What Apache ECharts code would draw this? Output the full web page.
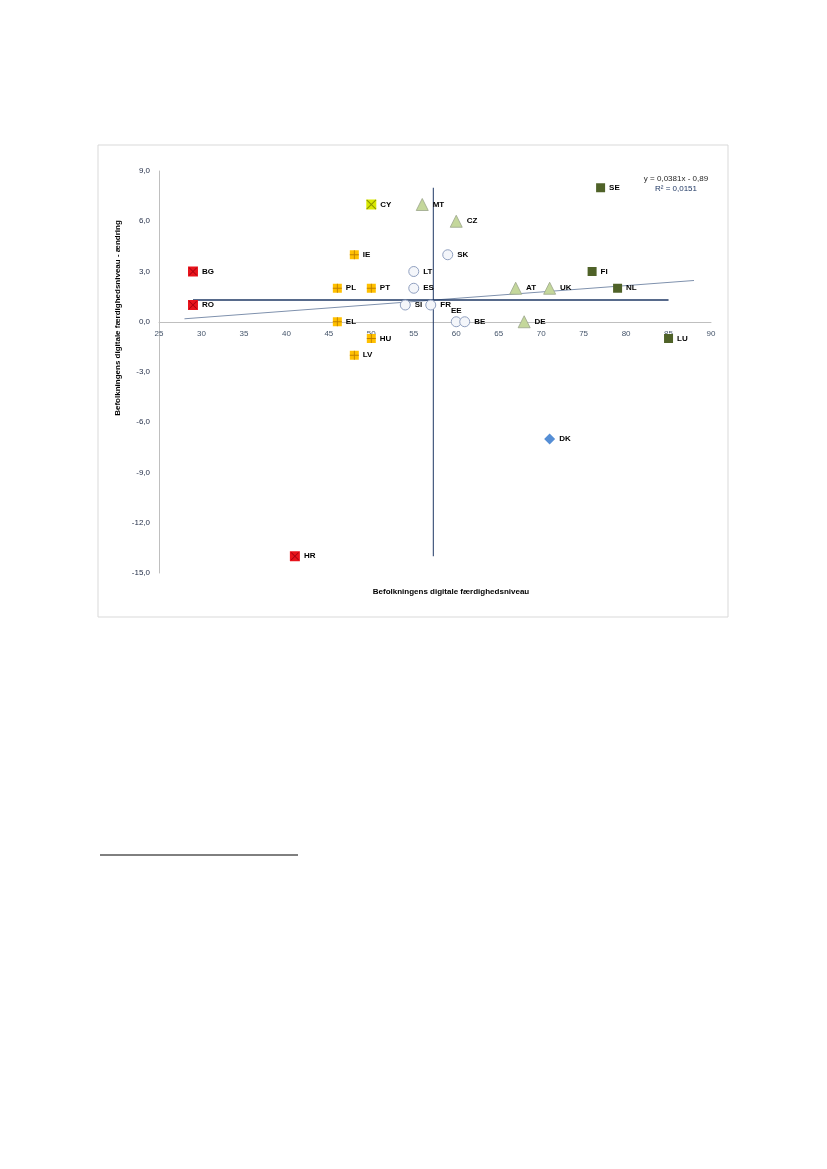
<!DOCTYPE html>
<html><head><meta charset="utf-8">
<script src="https://cdn.jsdelivr.net/npm/echarts@6/dist/echarts.min.js"></script>
<style>html,body{margin:0;padding:0;background:#fff}#c{width:827px;height:1169px}</style>
</head><body><div id="c"></div>
<script>
// Data
const redPts = [["BG",29,3],["RO",29,1],["HR",41,-14]];
const yellowPts = [["IE",48,4],["PL",46,2],["PT",50,2],["EL",46,0],["HU",50,-1],["LV",48,-2]];
const cyPts = [["CY",50,7]];
const trianglePts = [["MT",56,7],["CZ",60,6],["AT",67,2],["UK",71,2],["DE",68,0]];
const circlePts = [["SK",59,4],["LT",55,3],["ES",55,2],["SI",54,1],["FR",57,1],["EE",60,0],["BE",61,0]];
const darkGreenPts = [["SE",77,8],["FI",76,3],["NL",79,2],["LU",85,-1]];
const diamondPts = [["DK",71,-7]];
const meanX = 57.3, meanY = 1.3;
const meanYRange = [-14, 8];
const meanXRange = [29, 85];
const trendSlope = 0.0381, trendIntercept = -0.89;
const trendRange = [28, 88];
const xTicks = {min:25, max:90, interval:5};
const yTicks = {min:-15, max:9, interval:3};

const FONT = "'Liberation Sans Narrow','Liberation Sans',Arial,sans-serif";
const toData = arr => arr.map(p => ({name:p[0], value:[p[1],p[2]]}));
const lbl = {show:true, position:'right', distance:4, formatter:'{b}', color:'#000', fontWeight:'bold', fontSize:8, fontFamily:FONT};
function sc(pts, symbol, size, fill, border, bw){
  return {type:'scatter', symbol, symbolSize:size, data:toData(pts),
    itemStyle:{color:fill, borderColor:border, borderWidth:bw||0, opacity:1},
    label:lbl, emphasis:{disabled:true}, z:5};
}
function overlay(pts, path, size, color){
  return {type:'scatter', symbol:path, symbolSize:size, data:toData(pts),
    itemStyle:{color, opacity:1}, label:{show:false}, emphasis:{disabled:true}, silent:true, z:6};
}
const plusPath = 'path://M4.5,0 L5.5,0 L5.5,10 L4.5,10 Z M0,4.5 L10,4.5 L10,5.5 L0,5.5 Z';
const crossPath = 'path://M0.7,0 L10,9.3 L9.3,10 L0,0.7 Z M9.3,0 L10,0.7 L0.7,10 L0,9.3 Z';
const circleSeries = sc(circlePts,'circle',10,'#f4f6fa','#8f9fbf',1);
circleSeries.data = circleSeries.data.map(d => d.name==='EE' ? Object.assign(d,{label:{position:'top',distance:1}}) : d);

const option = {
  animation:false,
  grid:{left:159, right:116, top:171, bottom:596},
  xAxis:{type:'value', min:xTicks.min, max:xTicks.max, interval:xTicks.interval,
    offset:-251, position:'bottom',
    axisLine:{onZero:false, lineStyle:{color:'#bfbfbf', width:1}}, axisTick:{show:false},
    splitLine:{show:false},
    axisLabel:{color:'#44546a', fontSize:8, fontFamily:FONT, margin:8}},
  yAxis:{type:'value', min:yTicks.min, max:yTicks.max, interval:yTicks.interval,
    axisLine:{show:true, onZero:false, lineStyle:{color:'#bfbfbf', width:1}}, axisTick:{show:false},
    splitLine:{show:false},
    axisLabel:{color:'#1f2a44', fontSize:8, fontFamily:FONT, margin:9,
      formatter:v => v.toFixed(1).replace('.',',')}},
  graphic:[
    {type:'rect', shape:{x:98, y:145, width:630, height:472}, style:{fill:'none', stroke:'#d9d9d9', lineWidth:1}, z:-1},
    {type:'text', x:118, y:318, rotation:Math.PI/2, style:{text:'Befolkningens digitale færdighedsniveau - ændring', font:"bold 8px "+FONT, fill:'#000', textAlign:'center', textVerticalAlign:'middle'}},
    {type:'text', x:451, y:592, style:{text:'Befolkningens digitale færdighedsniveau', font:"bold 8px "+FONT, fill:'#000', textAlign:'center', textVerticalAlign:'middle'}},
    {type:'text', x:676, y:179, style:{text:'y = 0,0381x - 0,89', font:"8px "+FONT, fill:'#262626', textAlign:'center', textVerticalAlign:'middle'}},
    {type:'text', x:676, y:189, style:{text:'R² = 0,0151', font:"8px "+FONT, fill:'#1f3864', textAlign:'center', textVerticalAlign:'middle'}},
    {type:'line', shape:{x1:100, y1:855, x2:298, y2:855}, style:{stroke:'#000', lineWidth:1}}
  ],
  series:[
    {type:'line', data:trendRange.map(x=>[x, trendSlope*x+trendIntercept]), symbol:'none',
      lineStyle:{color:'#7f91ad', width:1}, z:2, silent:true},
    {type:'line', data:meanXRange.map(x=>[x, meanY]), symbol:'none',
      lineStyle:{color:'#1f3864', width:1.6}, z:3, silent:true},
    {type:'line', data:meanYRange.map(y=>[meanX, y]), symbol:'none',
      lineStyle:{color:'#1f3864', width:1}, z:3, silent:true},
    sc(redPts,'rect',10,'#e8141c','#c00000',0),
    overlay(redPts, crossPath, 8, '#a00010'),
    sc(yellowPts,'rect',9,'#ffc000','#e0a000',0),
    overlay(yellowPts, plusPath, 9, '#c08000'),
    sc(cyPts,'rect',10,'#d8e800','#a8b400',0),
    overlay(cyPts, crossPath, 10, '#8a9400'),
    sc(trianglePts,'triangle',12,'#c4d79b','#9aa58a',0.8),
    circleSeries,
    sc(darkGreenPts,'rect',9,'#4f6228','#3e4e1f',0),
    sc(diamondPts,'diamond',11,'#558ed5','#4a7ec0',0)
  ]
};
echarts.init(document.getElementById('c')).setOption(option);
</script></body></html>
